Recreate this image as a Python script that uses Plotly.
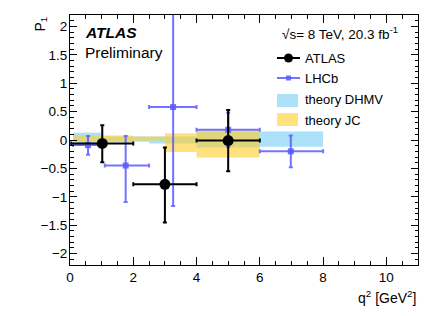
import plotly.graph_objects as go

# ATLAS data
atlas_x = [1.02, 3.0, 5.0]
atlas_xlo = [0.04, 2.0, 4.0]
atlas_xhi = [2.0, 4.0, 6.0]
atlas_y = [-0.06, -0.78, -0.01]
atlas_eyp = [0.32, 0.65, 0.54]
atlas_eym = [0.33, 0.67, 0.54]

# LHCb data
lhcb_x = [0.57, 1.76, 3.26, 5.0, 6.98]
lhcb_xlo = [0.1, 1.1, 2.5, 4.0, 6.0]
lhcb_xhi = [0.98, 2.5, 4.0, 6.0, 8.0]
lhcb_y = [-0.09, -0.45, 0.58, 0.18, -0.20]
lhcb_eyp = [0.16, 0.52, 1.8, 0.3, 0.28]
lhcb_eym = [0.17, 0.64, 1.74, 0.3, 0.28]

# theory DHMV bands
dhmv_xlo = [0.1, 1.1, 2.5, 4.0, 6.0]
dhmv_xhi = [0.98, 2.5, 4.0, 6.0, 8.0]
dhmv_lo = [-0.08, -0.03, -0.06, -0.13, -0.12]
dhmv_hi = [0.13, 0.06, 0.06, 0.15, 0.15]

# theory JC bands
jc_xlo = [0.1, 2.0, 3.0, 4.0]
jc_xhi = [2.0, 3.0, 4.0, 6.0]
jc_lo = [-0.03, -0.01, -0.21, -0.31]
jc_hi = [0.08, 0.06, 0.12, 0.17]

FONT = "Liberation Sans, Arial, Helvetica, sans-serif"
BLUE = "rgba(90,90,255,0.85)"
DHMV_COL = "rgb(172,225,250)"
JC_COL = "rgba(255,205,40,0.6)"

fig = go.Figure()


def add_bands(xlo, xhi, lo, hi, color):
    for a, b, l, h in zip(xlo, xhi, lo, hi):
        fig.add_trace(go.Scatter(
            x=[a, b, b, a, a], y=[l, l, h, h, l], mode="lines",
            fill="toself", fillcolor=color, line=dict(width=0),
            hoverinfo="skip", showlegend=False))


add_bands(dhmv_xlo, dhmv_xhi, dhmv_lo, dhmv_hi, DHMV_COL)
add_bands(jc_xlo, jc_xhi, jc_lo, jc_hi, JC_COL)

fig.add_trace(go.Scatter(
    x=lhcb_x, y=lhcb_y, mode="markers",
    marker=dict(symbol="square", size=6, color=BLUE),
    error_x=dict(type="data", symmetric=False,
                 array=[h - x for h, x in zip(lhcb_xhi, lhcb_x)],
                 arrayminus=[x - l for l, x in zip(lhcb_xlo, lhcb_x)],
                 color=BLUE, thickness=2, width=2),
    error_y=dict(type="data", symmetric=False, array=lhcb_eyp, arrayminus=lhcb_eym,
                 color=BLUE, thickness=2, width=2),
    showlegend=False))

fig.add_trace(go.Scatter(
    x=atlas_x, y=atlas_y, mode="markers",
    marker=dict(symbol="circle", size=11, color="black"),
    error_x=dict(type="data", symmetric=False,
                 array=[h - x for h, x in zip(atlas_xhi, atlas_x)],
                 arrayminus=[x - l for l, x in zip(atlas_xlo, atlas_x)],
                 color="black", thickness=2, width=2),
    error_y=dict(type="data", symmetric=False, array=atlas_eyp, arrayminus=atlas_eym,
                 color="black", thickness=2, width=2),
    showlegend=False))

# page has an 8px body margin: figure is drawn at (8,8)
OFF = 8
W, H = 440 - OFF, 316 - OFF
L, R, T, B = 70, 418, 15, 265  # plot area in page pixels


def px(x):
    return (x - L) / (R - L)


def py(y):
    return (B - y) / (B - T)


shapes = [
    dict(type="line", xref="paper", yref="paper", x0=px(277), x1=px(300), y0=py(58), y1=py(58),
         line=dict(color="black", width=2)),
    dict(type="circle", xref="paper", yref="paper", x0=px(284), x1=px(293), y0=py(53.5), y1=py(62.5),
         fillcolor="black", line=dict(color="black", width=0)),
    dict(type="line", xref="paper", yref="paper", x0=px(277), x1=px(300), y0=py(78), y1=py(78),
         line=dict(color=BLUE, width=2)),
    dict(type="rect", xref="paper", yref="paper", x0=px(286), x1=px(291), y0=py(75.5), y1=py(80.5),
         fillcolor=BLUE, line=dict(width=0)),
    dict(type="rect", xref="paper", yref="paper", x0=px(277), x1=px(298), y0=py(94), y1=py(107),
         fillcolor=DHMV_COL, line=dict(width=0)),
    dict(type="rect", xref="paper", yref="paper", x0=px(277), x1=px(298), y0=py(113), y1=py(126),
         fillcolor=JC_COL, line=dict(width=0)),
]

annotations = [
    dict(text="<b><i>ATLAS</i></b>", x=px(83), y=py(33), xref="paper", yref="paper",
         xanchor="left", yanchor="middle", showarrow=False, font=dict(size=15.5, family=FONT, color="black")),
    dict(text="Preliminary", x=px(83), y=py(52), xref="paper", yref="paper",
         xanchor="left", yanchor="middle", showarrow=False, font=dict(size=15.5, family=FONT, color="black")),
    dict(text="√s= 8 TeV, 20.3 fb<sup>-1</sup>", x=px(400), y=py(33), xref="paper", yref="paper",
         xanchor="right", yanchor="middle", showarrow=False, font=dict(size=13.5, family=FONT, color="black")),
    dict(text="ATLAS", x=px(303), y=py(58), xref="paper", yref="paper",
         xanchor="left", yanchor="middle", showarrow=False, font=dict(size=13, family=FONT, color="black")),
    dict(text="LHCb", x=px(303), y=py(78), xref="paper", yref="paper",
         xanchor="left", yanchor="middle", showarrow=False, font=dict(size=13, family=FONT, color="black")),
    dict(text="theory DHMV", x=px(303), y=py(100), xref="paper", yref="paper",
         xanchor="left", yanchor="middle", showarrow=False, font=dict(size=13, family=FONT, color="black")),
    dict(text="theory JC", x=px(303), y=py(120), xref="paper", yref="paper",
         xanchor="left", yanchor="middle", showarrow=False, font=dict(size=13, family=FONT, color="black")),
    dict(text="q<sup>2</sup> [GeV<sup>2</sup>]", x=px(418), y=py(297), xref="paper", yref="paper",
         xanchor="right", yanchor="middle", showarrow=False, font=dict(size=14, family=FONT, color="black")),
    dict(text="P<sub>1</sub>", x=px(40), y=py(14), xref="paper", yref="paper",
         xanchor="center", yanchor="top", textangle=-90, showarrow=False,
         font=dict(size=14, family=FONT, color="black")),
]

fig.update_layout(
    template="none",
    width=W, height=H,
    margin=dict(l=L - OFF, r=W - (R - OFF), t=T - OFF, b=H - (B - OFF), autoexpand=False),
    paper_bgcolor="white", plot_bgcolor="white",
    font=dict(family=FONT, size=13, color="black"),
    shapes=shapes, annotations=annotations,
    showlegend=False,
    xaxis=dict(range=[0, 11], tick0=0, dtick=2, ticks="inside", ticklen=8, tickwidth=1,
               tickcolor="black", mirror="allticks", showline=True, linecolor="black", linewidth=1,
               showgrid=False, zeroline=False, automargin=False, tickfont=dict(size=13.5, family=FONT),
               minor=dict(tick0=0, dtick=0.5, ticks="inside", ticklen=4, tickcolor="black", showgrid=False)),
    yaxis=dict(range=[-2.2, 2.2], tick0=0, dtick=0.5, ticks="inside", ticklen=7, tickwidth=1,
               tickcolor="black", mirror="allticks", showline=True, linecolor="black", linewidth=1,
               showgrid=False, zeroline=False, automargin=False, tickfont=dict(size=13.5, family=FONT),
               ticklabelstandoff=-1,
               minor=dict(tick0=0, dtick=0.1, ticks="inside", ticklen=3.5, tickcolor="black", showgrid=False)),
)

fig.write_html("out.html")
